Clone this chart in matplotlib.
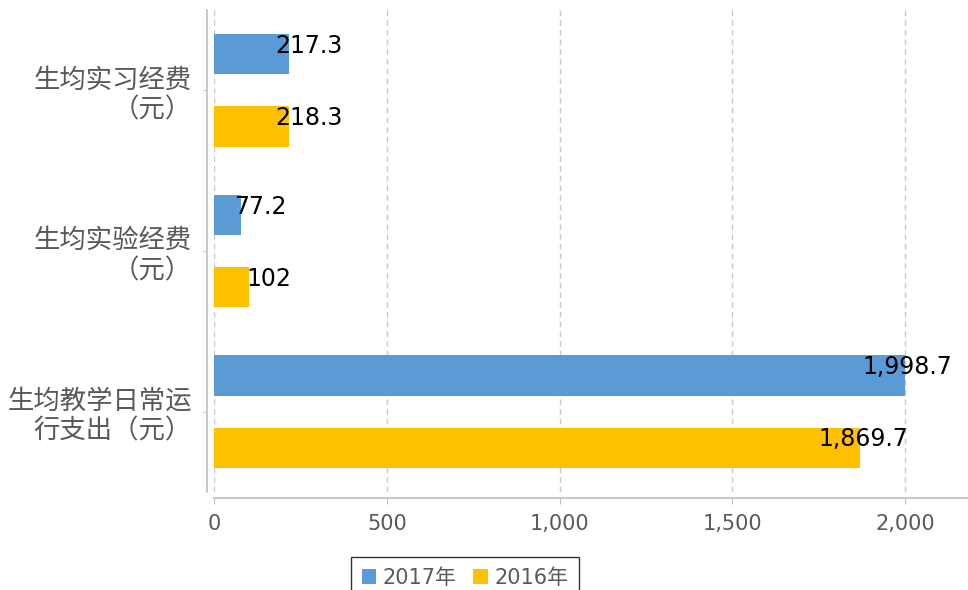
import numpy as np
import matplotlib.pyplot as plt
from matplotlib.ticker import FuncFormatter

# digits in DejaVu (wider, like the reference), CJK falls back to Noto
plt.rcParams['font.family'] = ['DejaVu Sans', 'Noto Sans CJK SC']

categories = ["生均实习经费\n（元）", "生均实验经费\n（元）", "生均教学日常运\n行支出（元）"]
series_names = ["2017年", "2016年"]
values_2017 = [217.3, 77.2, 1998.7]
values_2016 = [218.3, 102, 1869.7]
value_labels_2017 = ["217.3", "77.2", "1,998.7"]
value_labels_2016 = ["218.3", "102", "1,869.7"]
x_ticks = [0, 500, 1000, 1500, 2000]

blue = "#5B9BD5"
yellow = "#FFC000"
gray = "#595959"

fig = plt.figure(figsize=(9.68, 5.90), dpi=100)
ax = fig.add_axes([214 / 968, 1 - 492 / 590, 1 - 214 / 968, 482 / 590])

y = np.arange(len(categories))
h = 0.25
off = 0.225
b1 = ax.barh(y - off, values_2017, height=h, color=blue, label=series_names[0], zorder=3)
b2 = ax.barh(y + off, values_2016, height=h, color=yellow, label=series_names[1], zorder=3)

# value labels near the bar ends
for bars, labels in [(b1, value_labels_2017), (b2, value_labels_2016)]:
    for rect, txt in zip(bars, labels):
        v = rect.get_width()
        dx = 14 if v < 500 else 2
        ax.annotate(txt, (v, rect.get_y() + rect.get_height() / 2),
                    xytext=(dx, 6), textcoords="offset points",
                    ha="center", va="center", fontsize=17, color="black", zorder=4)

ax.set_xlim(0, 2182)
ax.set_ylim(2.5, -0.5)
ax.set_xticks(x_ticks)
ax.xaxis.set_major_formatter(FuncFormatter(lambda v, p: "{:,.0f}".format(v)))
ax.set_yticks(y)
ax.set_yticklabels(categories, family=['Noto Sans CJK SC', 'DejaVu Sans'])
for lab in ax.get_yticklabels():
    lab.set_multialignment("center")
    lab.set_linespacing(1.05)

ax.grid(axis="x", linestyle=(0, (4, 3)), color="#c8c8c8", linewidth=1, zorder=0)
ax.spines["top"].set_visible(False)
ax.spines["right"].set_visible(False)
ax.spines["left"].set_position(("outward", 5))
ax.spines["bottom"].set_position(("outward", 4.5))
for s in ["left", "bottom"]:
    ax.spines[s].set_color("#bfbfbf")
    ax.spines[s].set_linewidth(1.2)
ax.tick_params(axis="x", colors="#bfbfbf", labelcolor=gray, labelsize=15, length=4, pad=7)
ax.tick_params(axis="y", colors="#bfbfbf", labelcolor=gray, labelsize=19, length=3, pad=8)

fig.legend(handles=[b1, b2], labels=series_names, loc="upper center",
           bbox_to_anchor=(465 / 968, 1 - 547 / 590), ncol=2, fontsize=15,
           frameon=True, fancybox=False, edgecolor="black", handlelength=0.7,
           handleheight=0.7, handletextpad=0.3, columnspacing=0.8,
           borderpad=0.5, labelcolor=gray)

fig.savefig("out.png", dpi=100)
